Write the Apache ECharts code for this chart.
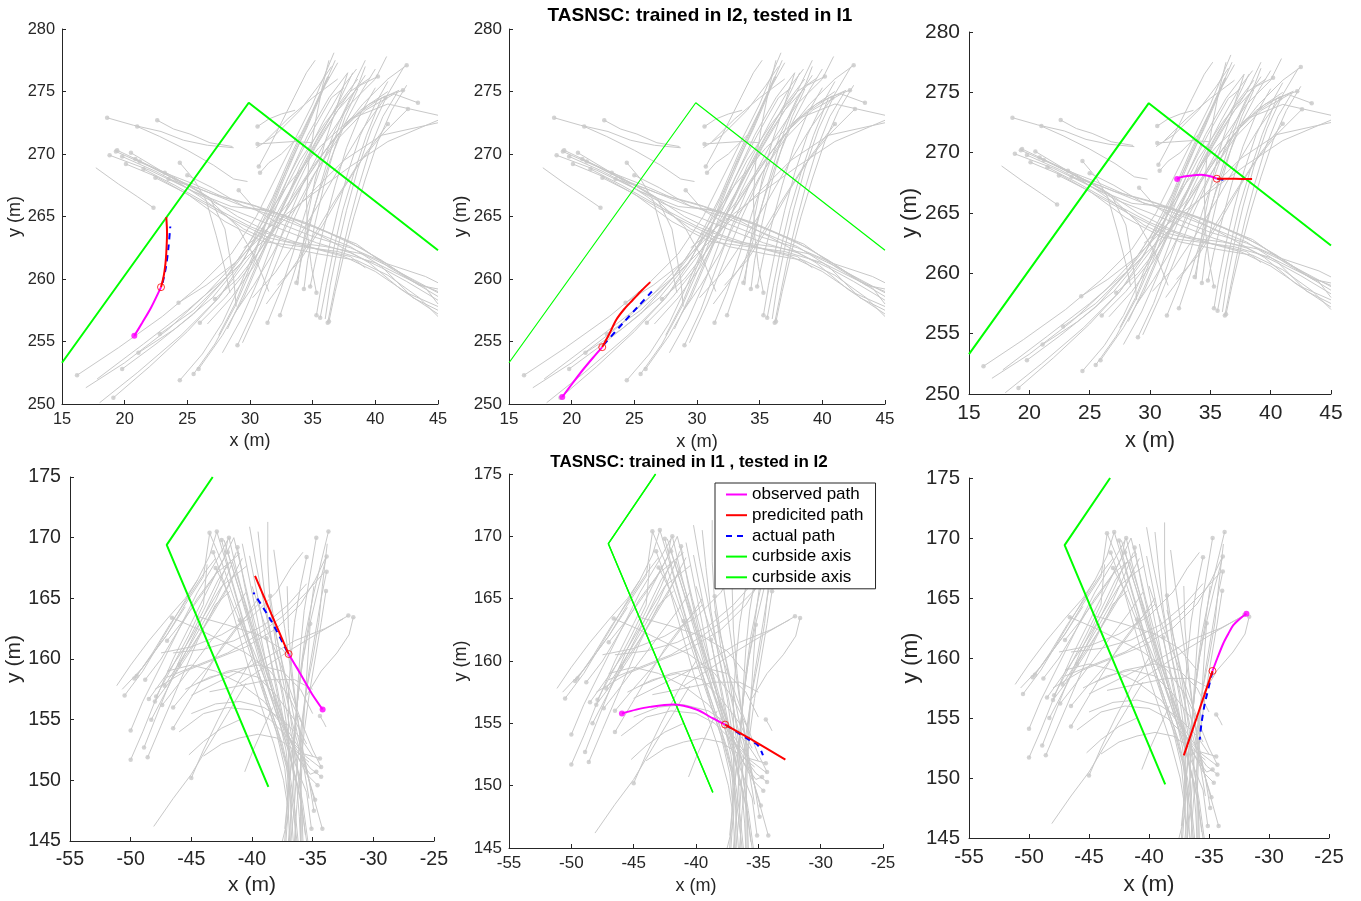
<!DOCTYPE html>
<html>
<head>
<meta charset="utf-8">
<title>TASNSC trajectories</title>
<script src="https://cdn.jsdelivr.net/npm/echarts@6/dist/echarts.min.js"></script>
<style>
html, body { margin: 0; padding: 0; background: #fff; }
#main { width: 1361px; height: 901px; }
</style>
</head>
<body>
<div id="main"></div>
<script>
// axis ranges of the two intersections
var X_I1 = [15, 45], Y_I1 = [250, 280];
var X_I2 = [-55, -25], Y_I2 = [145, 175];

// curbside axis
var CURB_I1 = [[15, 253.3], [29.9, 274.1], [45, 262.3]];
var CURB_I2 = [[-43.24, 175], [-47.03, 169.41], [-38.65, 149.46]];

// I1 background tracks (dot on first point)
var I1_TRACKS = [
  // west approach, heading east / south-east
  [[18.6,272.9],[20.7,272.3],[22.9,271.8],[24.7,271.1],[26.6,270.7],[28.7,270.5]],
  [[22.6,272.7],[23.9,272.0],[25.2,271.6],[26.8,270.9],[28.6,270.6]],
  [[21.0,272.2],[22.8,271.4],[25.0,270.3],[27.1,269.1],[28.7,268.0],[29.8,267.8]],
  [[18.8,269.9],[22.0,268.7],[24.7,267.4],[27.4,266.0],[30.0,265.0],[32.7,263.9],[35.3,262.9],[38.0,262.1],[40.5,260.9],[42.5,259.8],[45,258.3]],
  [[19.4,270.3],[21.5,269.3],[24.0,268.0],[27.0,266.8],[30.0,266.0],[33.0,265.0],[36.0,263.8],[39.0,262.4],[42.0,260.5],[45,258.9]],
  [[20.1,269.2],[22.5,268.2],[25.5,266.5],[28.5,264.8],[31.5,263.3],[34.5,262.6],[37.5,261.8],[40.0,260.6],[42.5,258.9],[45,257.8]],
  [[20.85,269.6],[23.0,268.5],[26.0,267.0],[29.0,265.0],[32.0,263.5],[35.0,262.5],[38.0,261.8],[39.2,260.9]],
  [[22.45,268.1],[25.0,266.8],[28.0,264.6],[31.0,263.0],[34.0,262.6],[37.0,262.2],[40.0,261.3],[43.0,259.8],[45,258.6]],
  [[23.2,268.5],[25.5,267.6],[28.0,266.5],[30.5,265.8],[33.5,264.6],[36.5,263.0],[39.5,261.3],[42.0,259.2],[45,257.2]],
  [[24.4,269.3],[25.5,268.0],[26.5,266.3],[27.3,263.5],[28.0,260.8],[28.4,258.9]],
  [[22.3,265.7],[21.0,266.6],[19.5,267.6],[17.7,268.9]],
  [[25.0,268.3],[27.0,267.3],[29.5,265.8],[32.0,265.3],[35.0,264.2],[38.5,262.8],[41.0,261.0],[43.5,259.5],[45,259.2]],
  [[21.2,269.4],[23.5,268.4],[26.5,266.6],[29.0,264.2],[30.5,261.5],[31.5,259.0]],
  [[19.3,270.2],[22.0,269.0],[24.5,267.8],[26.8,266.5],[28.0,264.0],[28.7,260.0],[28.9,257.8]],
  [[29.1,267.1],[30.5,265.5],[32.0,264.6],[35.0,263.4],[38.0,262.5],[41.0,261.2],[44.0,260.2],[45,259.7]],
  [[19.8,269.8],[22.5,268.6],[25.5,267.0],[28.5,265.8],[31.5,265.5],[34.5,264.5],[37.5,263.2],[40.5,261.5],[43.0,259.8],[45,259.0]],
  [[21.5,268.8],[24.0,267.5],[27.0,265.8],[30.0,264.2],[33.0,263.0],[36.0,262.6],[39.0,262.0],[41.5,260.8],[44.0,259.3],[45,258.0]],
  [[23.5,268.0],[26.0,267.2],[29.0,266.0],[32.0,265.0],[35.0,263.8],[38.0,262.6],[40.5,261.0],[43.0,258.5],[45,257.5]],
  [[20.5,270.1],[23.0,268.6],[26.0,266.6],[29.5,264.0],[32.5,262.6],[35.5,262.0],[38.5,261.5],[41.0,260.3],[43.5,258.5],[45,257.0]],
  // south approach, west lane
  [[16.2,252.3],[19.5,254.5],[23.0,257.0],[26.0,259.5],[28.5,262.0],[30.5,265.0],[32.0,268.0],[33.5,271.0],[35.0,274.0],[36.7,278.1]],
  [[19.1,250.5],[22.0,253.0],[25.0,255.8],[27.5,258.5],[29.5,261.5],[31.2,265.0],[32.8,268.5],[34.5,272.0],[36.0,275.5],[37.0,277.3]],
  [[19.8,252.8],[22.5,254.8],[25.5,257.2],[28.0,260.0],[30.0,263.0],[31.8,266.5],[33.3,270.0],[35.0,273.5],[36.2,276.2]],
  [[21.1,254.1],[24.0,256.0],[27.0,258.5],[29.3,261.3],[31.3,264.5],[33.0,268.0],[34.8,271.5],[36.5,274.5],[37.5,275.3]],
  [[22.8,255.6],[25.5,257.5],[28.0,260.0],[30.3,263.0],[32.2,266.0],[34.0,269.5],[36.0,272.5],[38.0,275.0],[39.6,276.1]],
  // south approach, middle lane
  [[24.4,251.9],[26.2,254.0],[27.8,256.5],[29.2,259.5],[30.5,262.5],[31.8,266.0],[33.2,269.5],[34.8,273.0],[36.3,276.2]],
  [[25.5,252.4],[27.2,254.8],[28.8,257.8],[30.2,261.0],[31.6,264.5],[33.0,268.0],[34.6,271.5],[36.3,274.5],[37.8,276.5]],
  [[25.9,252.8],[27.8,255.5],[29.5,258.5],[31.0,262.0],[32.5,265.5],[34.0,269.0],[35.8,272.5],[37.5,275.5],[38.5,276.8]],
  [[40.2,276.2],[38.8,275.5],[37.0,273.5],[35.2,270.5],[33.5,267.0],[32.0,263.5],[30.7,260.0],[29.3,256.8],[27.8,254.1]],
  [[29.0,254.7],[30.3,257.5],[31.5,260.8],[32.8,264.3],[34.3,267.8],[36.0,271.0],[38.0,274.0],[40.0,276.0],[40.9,277.8]],
  [[42.5,277.1],[41.0,276.0],[39.0,274.0],[37.0,271.5],[35.2,268.5],[33.6,265.0],[32.2,261.5],[30.8,258.0],[29.4,254.9]],
  [[24.3,258.1],[26.5,259.5],[28.8,261.3],[31.0,263.5],[33.0,266.0],[35.0,269.0],[37.2,271.8],[39.5,274.0],[41.9,275.1]],
  [[42.2,275.1],[40.5,274.5],[38.0,272.8],[35.8,270.0],[33.8,267.0],[32.0,264.0],[30.3,261.0],[28.5,258.5],[26.6,256.4]],
  [[27.2,258.4],[29.0,260.0],[30.8,262.3],[32.6,265.0],[34.5,268.0],[36.5,271.0],[38.8,273.5],[41.0,275.0]],
  [[43.4,274.1],[41.5,274.8],[39.2,273.5],[37.0,271.2],[35.0,268.2],[33.3,265.0],[31.8,262.0],[30.3,259.5],[28.8,257.3]],
  [[26.0,256.5],[28.0,258.5],[30.0,261.0],[31.8,264.0],[33.5,267.5],[35.3,271.0],[37.0,274.0],[38.2,276.5]],
  // east lane, from the southern kink
  [[36.2,256.5],[36.6,258.5],[37.2,261.5],[37.9,264.5],[38.7,267.5],[39.6,270.5],[40.6,273.0],[41.8,275.0]],
  [[36.3,256.6],[36.8,259.0],[37.5,262.0],[38.3,265.0],[39.2,268.0],[40.2,271.0],[41.3,273.5],[42.5,275.5]],
  [[35.3,257.1],[35.7,259.5],[36.3,262.5],[37.0,265.5],[37.8,268.5],[38.8,271.5],[40.0,274.0],[41.0,275.8]],
  [[35.6,256.9],[36.1,259.5],[36.7,262.5],[37.4,265.5],[38.3,268.5],[39.3,271.5],[40.5,274.5]],
  [[33.7,259.7],[34.2,262.0],[34.9,264.8],[35.7,267.8],[36.6,270.8],[37.6,273.5],[38.7,275.7],[39.2,277.0]],
  [[34.8,259.4],[35.3,261.8],[36.0,264.5],[36.8,267.5],[37.7,270.5],[38.8,273.2],[40.0,275.3]],
  [[34.3,259.2],[34.6,261.5],[35.2,264.5],[35.9,267.5],[36.7,270.3],[37.6,273.0],[38.6,275.2]],
  [[35.3,258.9],[34.9,261.0],[34.6,263.5],[34.5,266.5],[34.7,269.5],[35.2,272.5],[35.8,275.5],[36.3,277.5]],
  [[31.4,256.5],[32.4,259.0],[33.4,262.0],[34.4,265.3],[35.5,268.5],[36.7,271.7],[38.0,274.5],[39.2,276.3]],
  [[32.4,257.1],[33.3,259.8],[34.3,263.0],[35.3,266.3],[36.4,269.5],[37.6,272.5],[38.9,275.0],[40.0,276.8]],
  // from the north-east, heading south-west
  [[42.6,273.6],[40.5,271.5],[38.5,269.0],[36.6,266.0],[34.8,263.0],[33.0,260.3],[31.3,258.0]],
  [[41.0,272.4],[39.2,270.0],[37.5,267.3],[35.8,264.3],[34.0,261.5],[32.2,259.5]],
  [[40.8,274.5],[39.0,272.0],[37.3,269.2],[35.6,266.2],[33.8,263.2],[32.0,260.5],[30.2,258.5]],
  // short tracks near the apex
  [[30.6,272.2],[31.5,272.8],[32.5,273.2],[33.6,273.5]],
  [[30.6,270.8],[32.0,270.9],[33.5,271.0],[35.0,270.9]],
  [[30.7,269.0],[31.5,270.5],[32.5,272.5],[33.5,274.5],[34.5,276.5],[35.2,277.5]],
  [[30.8,268.5],[31.5,269.3],[32.5,270.0],[34.0,271.5]]
];
// I1 background tracks without a dot
var I1_TRACKS_NODOT = [
  [[18.0,250.1],[21.0,252.5],[24.5,255.5],[27.5,258.5],[30.0,261.8],[32.0,265.0],[34.0,268.5],[36.0,272.0],[38.0,275.0],[39.2,277.5]],
  [[16.9,251.3],[20.0,253.3],[23.5,256.0],[26.5,258.8],[29.0,261.5],[31.0,264.5],[33.0,267.5],[35.5,270.5],[38.0,272.8],[41.0,274.0],[45,273.1]],
  [[17.8,252.0],[21.5,254.8],[25.0,257.5],[28.5,260.5],[31.5,263.5],[34.5,266.5],[37.5,269.5],[40.5,271.5],[45,272.5]],
  [[29.5,262.5],[32.0,264.5],[35.0,266.8],[38.0,269.0],[41.0,271.0],[45,272.7]],
  [[27.5,255.5],[28.8,258.0],[30.0,261.0],[31.2,264.2],[32.5,267.5],[34.0,271.0],[35.5,274.5],[36.8,277.5]],
  [[28.2,256.0],[29.5,258.8],[30.8,261.8],[32.2,265.0],[33.8,268.3],[35.5,271.5],[37.3,274.3],[38.6,276.0]],
  [[33.8,259.5],[34.1,262.0],[34.6,265.0],[35.2,268.0],[36.0,271.0],[37.0,274.0],[37.8,276.5]],
  [[36.0,256.8],[36.4,259.5],[37.0,262.5],[37.7,265.5],[38.6,268.8],[39.7,272.0],[41.0,274.8],[42.3,277.0]],
  [[30.5,270.5],[32.0,271.5],[34.0,273.5],[35.5,275.5],[36.5,277.0]],
  [[31.2,271.0],[33.0,272.8],[35.0,274.5],[37.0,276.0]]
];

// I2 background tracks (dot on first point)
var I2_TRACKS = [
  [[-50.5,157.0],[-49.0,159.0],[-47.5,161.5],[-46.0,164.0],[-44.5,166.5],[-43.5,168.5],[-42.9,170.5]],
  [[-50.0,154.1],[-49.0,156.5],[-47.5,159.5],[-46.0,162.5],[-44.5,165.5],[-43.0,168.0],[-41.9,170.0]],
  [[-50.0,151.7],[-49.0,154.0],[-47.8,157.0],[-46.5,160.0],[-45.0,163.0],[-43.5,166.0],[-42.2,168.5],[-41.5,170.0]],
  [[-49.7,158.4],[-48.5,160.0],[-47.0,162.0],[-45.5,164.5],[-44.0,166.8],[-43.5,170.3]],
  [[-49.5,158.6],[-48.2,160.5],[-46.8,162.8],[-45.3,165.0],[-44.0,167.0],[-43.0,168.3]],
  [[-48.8,158.3],[-47.5,160.0],[-46.0,162.5],[-44.5,165.0],[-43.0,167.0],[-41.0,168.7]],
  [[-48.5,156.7],[-47.0,158.8],[-45.5,161.0],[-44.0,163.5],[-42.5,166.0],[-40.4,167.7]],
  [[-48.3,155.0],[-47.0,157.5],[-45.5,160.5],[-44.0,163.5],[-42.8,166.0],[-42.0,168.0]],
  [[-48.9,152.7],[-48.0,155.0],[-46.8,158.0],[-45.5,161.0],[-44.0,164.0],[-42.8,166.5],[-41.8,168.0]],
  [[-48.6,151.9],[-47.5,154.5],[-46.0,158.0],[-44.5,161.5],[-43.0,164.5],[-41.8,165.6]],
  [[-48.0,156.5],[-46.5,158.5],[-45.0,160.8],[-43.5,163.5],[-42.0,166.0],[-40.8,168.3]],
  [[-47.4,156.2],[-46.0,158.0],[-44.5,160.0],[-43.0,162.0],[-41.5,164.0],[-40.5,165.5]],
  [[-47.2,157.8],[-45.8,160.0],[-44.3,162.5],[-43.0,164.8],[-42.0,167.0],[-41.3,168.8]],
  [[-46.5,156.0],[-45.0,157.8],[-43.5,159.5],[-42.0,161.5],[-40.5,163.5],[-39.5,165.0]],
  [[-46.5,154.3],[-45.2,156.5],[-44.0,158.5],[-42.5,161.0],[-41.0,163.0],[-39.5,164.5]],
  [[-47.9,156.9],[-46.5,159.5],[-45.2,162.0],[-44.0,164.5],[-43.7,167.8]],
  [[-46.0,159.5],[-44.8,161.3],[-43.5,163.3],[-42.3,165.3],[-41.3,167.3]],
  [[-47.0,161.5],[-45.8,163.0],[-44.5,164.8],[-43.3,166.5],[-42.3,168.3],[-42.0,169.8]],
  [[-45.0,150.2],[-44.0,152.5],[-42.8,155.0],[-41.5,157.5],[-40.0,160.0]],
  [[-43.5,170.4],[-42.5,168.0],[-41.5,165.0],[-40.5,162.0],[-39.5,159.0],[-38.5,156.0],[-37.5,153.0],[-36.8,150.0],[-36.4,147.0],[-36.2,145.0]],
  [[-42.9,170.5],[-42.0,167.5],[-41.0,164.0],[-40.0,160.5],[-39.0,157.5],[-38.0,154.5],[-37.2,151.5],[-36.8,148.0],[-36.6,145.0]],
  [[-42.5,169.8],[-41.8,167.0],[-40.8,163.5],[-39.8,160.0],[-38.8,156.5],[-37.8,153.5],[-37.0,150.5],[-36.6,147.5],[-36.3,145.0]],
  [[-42.0,168.8],[-41.0,165.5],[-40.0,162.0],[-39.0,158.5],[-38.0,155.5],[-37.0,152.5],[-36.2,149.5],[-35.8,147.0],[-35.5,145.0]],
  [[-41.9,170.0],[-41.2,167.0],[-40.3,163.5],[-39.3,160.0],[-38.3,156.5],[-37.3,153.5],[-36.5,150.5],[-35.9,148.0],[-35.6,145.5]],
  [[-41.2,169.2],[-40.6,166.0],[-39.8,162.5],[-38.8,159.0],[-37.8,155.5],[-36.9,152.5],[-36.3,149.5],[-36.1,147.0],[-36.0,145.0]],
  [[-43.2,168.8],[-42.2,166.0],[-41.2,162.5],[-40.2,159.0],[-39.2,156.0],[-38.2,153.0],[-37.4,150.0],[-37.0,147.5],[-36.9,145.0]],
  [[-34.6,149.6],[-35.5,150.5],[-36.5,152.5],[-37.5,155.0],[-38.5,158.5],[-39.5,162.0],[-40.3,165.0],[-41.0,168.0],[-41.5,170.0]],
  [[-43.0,167.5],[-42.0,165.5],[-41.0,163.0],[-40.0,160.0],[-39.0,157.0],[-38.0,154.0],[-37.3,151.0],[-37.0,148.0],[-37.2,145.0]],
  [[-34.7,150.7],[-35.2,150.5],[-36.3,152.0],[-37.5,155.0],[-38.7,158.5],[-40.0,162.5],[-41.3,166.5],[-42.3,169.8]],
  [[-34.4,151.8],[-35.8,152.2],[-37.0,154.0],[-38.2,157.0],[-39.3,160.5],[-40.5,164.5],[-41.6,168.0]],
  [[-35.1,146.0],[-35.5,149.0],[-36.5,151.5],[-37.3,154.5],[-38.0,158.0],[-38.8,161.5],[-39.5,165.0],[-40.2,168.5]],
  [[-34.9,147.5],[-35.3,150.0],[-35.8,152.5],[-36.3,155.5],[-36.8,159.0],[-37.3,162.5],[-37.8,166.0],[-38.2,169.0]],
  [[-34.3,151.1],[-35.0,152.5],[-35.8,154.5],[-36.7,157.0],[-37.8,160.0],[-39.0,163.0],[-40.0,166.0]],
  [[-34.3,150.3],[-35.2,151.0],[-36.3,152.5],[-37.5,154.5],[-39.0,156.5],[-41.0,158.0],[-43.0,159.0],[-45.0,159.5],[-47.0,159.0]],
  [[-38.5,165.2],[-38.0,162.0],[-37.3,158.5],[-36.8,155.0],[-36.3,151.5],[-35.9,148.0],[-35.8,145.0]],
  [[-34.2,146.0],[-35.3,150.0],[-35.9,152.5],[-36.3,155.5],[-36.7,159.0],[-37.0,162.5],[-37.1,166.0]],
  [[-34.8,148.4],[-35.6,151.0],[-36.3,154.0],[-37.0,157.5],[-37.8,161.0],[-38.5,164.0]],
  [[-33.7,170.5],[-34.3,168.0],[-35.0,165.0],[-35.6,162.0],[-36.0,159.0],[-36.3,156.0],[-36.5,153.0],[-36.6,150.0],[-36.8,147.0],[-37.0,145.0]],
  [[-33.85,168.45],[-34.5,166.0],[-35.2,163.0],[-35.8,160.0],[-36.2,157.0],[-36.5,154.0],[-36.6,151.0],[-36.5,148.0],[-36.4,145.0]],
  [[-33.85,167.2],[-34.3,165.0],[-34.8,162.0],[-35.3,159.0],[-35.7,156.0],[-36.0,153.0],[-36.0,150.0],[-35.9,147.0],[-35.9,145.0]],
  [[-33.9,165.6],[-34.3,163.0],[-34.8,160.0],[-35.3,157.0],[-35.7,154.0],[-36.0,151.0],[-36.3,148.0],[-36.5,145.0]],
  [[-34.7,170.0],[-35.2,167.0],[-35.7,164.0],[-36.0,161.0],[-36.2,158.0],[-36.4,155.0],[-36.7,152.0],[-37.0,149.0],[-37.3,146.0]],
  [[-35.5,168.4],[-36.0,166.0],[-36.5,163.0],[-36.8,160.0],[-37.0,157.0],[-37.0,154.0],[-37.0,151.0],[-37.1,148.0]],
  [[-35.2,162.9],[-35.4,160.0],[-35.6,157.0],[-35.8,154.0],[-35.9,151.0],[-36.0,148.0],[-36.0,145.0]],
  [[-32.06,163.58],[-34.1,162.4],[-36.9,160.7],[-39.3,159.1],[-41.0,158.0]],
  [[-31.65,163.44],[-32.0,162.0],[-33.0,160.5],[-34.3,159.0],[-35.5,157.0]],
  [[-34.4,155.3],[-34.1,154.8],[-33.9,154.4]],
  [[-46.6,163.4],[-44.5,162.5],[-42.5,161.5],[-40.5,160.5],[-38.5,159.0],[-37.0,157.0],[-35.8,154.5]],
  [[-41.0,163.2],[-40.0,161.0],[-39.0,158.5],[-38.0,156.0],[-37.0,153.5],[-36.0,151.5]],
  [[-38.8,161.7],[-38.3,159.0],[-37.7,156.0],[-37.0,153.0],[-36.5,150.0]]
];
// I2 background tracks without a dot
var I2_TRACKS_NODOT = [
  [[-51.15,157.8],[-50.0,159.5],[-48.5,161.5],[-47.0,163.3],[-45.5,165.0],[-44.5,166.5]],
  [[-50.7,157.5],[-49.0,159.3],[-47.0,162.0],[-45.5,164.3]],
  [[-48.1,146.2],[-46.5,148.5],[-45.0,150.5],[-43.5,153.0],[-42.0,155.5],[-40.5,158.0]],
  [[-40.2,170.9],[-39.7,168.0],[-39.0,164.5],[-38.3,161.0],[-37.5,157.5],[-36.8,154.0],[-36.3,151.0],[-35.8,148.0],[-35.4,145.0]],
  [[-38.7,171.3],[-38.7,168.0],[-38.5,164.5],[-38.0,161.0],[-37.3,157.5],[-36.5,154.0],[-35.8,151.5],[-35.3,148.5]],
  [[-40.8,169.5],[-40.2,166.5],[-39.5,163.0],[-38.8,159.5],[-38.0,156.0],[-37.2,152.5],[-36.8,149.0],[-36.8,145.0]],
  [[-39.5,170.5],[-39.2,167.5],[-38.8,164.0],[-38.2,160.5],[-37.5,157.0],[-37.0,153.5],[-36.9,150.0],[-37.0,147.0],[-37.5,145.0]],
  [[-36.8,145.0],[-36.5,148.0],[-36.3,151.0],[-36.0,154.0],[-35.6,157.0],[-35.0,160.0],[-34.5,163.0],[-34.2,166.0],[-33.8,169.5]],
  [[-37.3,145.0],[-37.1,148.0],[-36.8,151.0],[-36.5,154.0],[-36.2,157.0],[-35.8,160.0],[-35.3,163.0],[-34.9,166.0]],
  [[-45.0,155.5],[-43.0,156.3],[-41.0,156.5],[-39.0,156.0],[-37.5,155.0],[-36.0,153.5],[-35.0,152.0]],
  [[-46.0,154.0],[-44.0,155.5],[-42.0,156.0],[-40.0,155.8],[-38.5,155.0],[-37.0,153.5],[-35.6,152.0],[-34.3,151.0]],
  [[-45.5,157.5],[-43.5,158.5],[-41.5,159.0],[-39.5,158.5],[-38.0,157.0],[-36.5,155.0],[-35.5,153.0]],
  [[-44.0,152.0],[-42.5,153.0],[-41.0,153.5],[-39.5,153.8],[-38.0,153.5],[-36.5,152.5],[-35.3,151.5]],
  [[-48.0,157.5],[-45.5,159.0],[-43.0,160.0],[-40.5,161.0],[-38.0,162.5],[-36.0,164.5],[-34.8,166.5],[-33.9,168.4]],
  [[-47.0,158.5],[-44.5,159.5],[-42.0,160.5],[-39.5,162.0],[-37.5,163.5],[-35.5,165.5],[-34.0,167.2]],
  [[-47.5,160.5],[-45.0,161.0],[-42.5,162.0],[-40.0,163.5],[-38.0,165.5],[-36.8,167.5],[-35.8,168.8]],
  [[-45.0,157.0],[-42.0,158.5],[-39.0,160.0],[-36.5,161.5],[-34.0,162.5],[-32.5,163.3]],
  [[-44.5,158.0],[-42.0,159.0],[-39.5,159.5],[-37.5,159.0],[-36.0,157.5],[-35.0,155.5]],
  [[-46.5,160.5],[-44.0,160.8],[-41.5,161.5],[-39.0,162.8],[-37.0,164.5],[-35.5,166.2]],
  [[-44.5,163.5],[-42.0,162.8],[-39.5,162.0],[-37.5,160.8],[-36.0,159.0]],
  [[-43.5,157.3],[-41.0,157.8],[-38.5,158.3],[-36.5,158.3],[-35.0,157.5]],
  [[-45.2,152.1],[-44.0,153.2],[-42.5,154.3],[-41.0,155.0]],
  [[-40.6,150.7],[-39.9,152.5],[-39.0,154.5],[-38.3,156.0]]
];

// observed / predicted / actual path of each panel
var OBS_1 = [[20.77,255.46],[21.4,256.5],[22.1,257.7],[22.9,259.35]];
var PRED_1 = [[22.9,259.35],[23.11,260.2],[23.25,261.2],[23.32,262.07],[23.38,263.7],[23.32,264.95]];
var ACT_1 = [[23.03,259.7],[23.3,261.0],[23.5,262.6],[23.64,264.2]];

var OBS_2 = [[19.25,250.56],[20.1,251.7],[20.9,252.74],[21.7,253.7],[22.44,254.55]];
var PRED_2 = [[22.44,254.55],[23.0,255.6],[23.56,256.74],[24.2,257.6],[24.89,258.34],[25.6,259.1],[26.27,259.75]];
var ACT_2 = [[22.55,254.74],[24.09,256.47],[25.3,257.8],[26.4,259.0]];

var OBS_3 = [[32.25,267.81],[32.5,267.95],[33.27,268.08],[34.24,268.17],[35.07,268.03],[35.54,267.84]];
var PRED_3 = [[35.54,267.84],[37.0,267.83],[38.46,267.81]];
var ACT_3 = [[35.6,267.84],[36.09,267.75]];

var OBS_4 = [[-34.18,155.84],[-35.08,157.16],[-36.04,158.82],[-36.98,160.41]];
var PRED_4 = [[-36.98,160.41],[-38.4,163.7],[-39.75,166.85]];
var ACT_4 = [[-37.09,160.6],[-38.46,163.22],[-39.89,165.48]];

var OBS_5 = [[-45.94,155.79],[-44.8,156.1],[-43.72,156.32],[-41.84,156.51],[-39.97,156.11],[-38.64,155.39],[-37.67,154.9]];
var PRED_5 = [[-37.67,154.9],[-35.2,153.5],[-32.83,152.09]];
var ACT_5 = [[-37.57,154.85],[-35.7,153.65],[-35.03,153.24],[-34.63,152.44]];

var OBS_6 = [[-31.88,163.69],[-32.4,163.3],[-32.99,162.72],[-33.4,162.0],[-33.82,161.19],[-34.3,160.0],[-34.71,158.92]];
var PRED_6 = [[-34.71,158.92],[-35.9,155.4],[-37.1,151.89]];
var ACT_6 = [[-34.71,158.85],[-35.35,156.19],[-35.63,154.53],[-35.77,153.19]];

var TITLE_TOP = 'TASNSC: trained in I2, tested in I1';
var TITLE_BOTTOM = 'TASNSC: trained in I1 , tested in I2';

var FONT = '"Liberation Sans", Arial, Helvetica, sans-serif';
var AX = '#262626';
var GRAY = '#c8c8c8';

// panel layout
var panels = [
  { grid: [62, 29, 376, 375], big: false, curbW: 2, xr: X_I1, yr: Y_I1, tracks: I1_TRACKS, nodot: I1_TRACKS_NODOT, curb: CURB_I1, obs: OBS_1, pred: PRED_1, act: ACT_1, lab: 16.4, nm: 18, xg: 28, yg: 36 },
  { grid: [509, 29, 376, 375], big: false, curbW: 1.2, xr: X_I1, yr: Y_I1, tracks: I1_TRACKS, nodot: I1_TRACKS_NODOT, curb: CURB_I1, obs: OBS_2, pred: PRED_2, act: ACT_2, lab: 17, nm: 18.3, xg: 29, yg: 35 },
  { grid: [969, 32, 362, 362], big: true, curbW: 2, xr: X_I1, yr: Y_I1, tracks: I1_TRACKS, nodot: I1_TRACKS_NODOT, curb: CURB_I1, obs: OBS_3, pred: PRED_3, act: ACT_3, lab: 21, nm: 22, xg: 36, yg: 44 },
  { grid: [70, 477, 364, 364], big: true, curbW: 2, xr: X_I2, yr: Y_I2, tracks: I2_TRACKS, nodot: I2_TRACKS_NODOT, curb: CURB_I2, obs: OBS_4, pred: PRED_4, act: ACT_4, lab: 19.6, nm: 21, xg: 34, yg: 41 },
  { grid: [509, 474, 374, 374], big: false, curbW: 1.5, xr: X_I2, yr: Y_I2, tracks: I2_TRACKS, nodot: I2_TRACKS_NODOT, curb: CURB_I2, obs: OBS_5, pred: PRED_5, act: ACT_5, lab: 17, nm: 18, xg: 29, yg: 35, legend: true },
  { grid: [969, 478, 360, 360], big: true, curbW: 2, xr: X_I2, yr: Y_I2, tracks: I2_TRACKS, nodot: I2_TRACKS_NODOT, curb: CURB_I2, obs: OBS_6, pred: PRED_6, act: ACT_6, lab: 20.4, nm: 22.5, xg: 35, yg: 44 }
];

var grids = [], xAxes = [], yAxes = [], series = [];

panels.forEach(function (p, i) {
  grids.push({ left: p.grid[0], top: p.grid[1], width: p.grid[2], height: p.grid[3], containLabel: false });
  var axisCommon = function (range, name, gap) {
    return {
      type: 'value', gridIndex: i, min: range[0], max: range[1], interval: 5,
      name: name, nameLocation: 'middle', nameGap: gap,
      nameTextStyle: { fontSize: p.nm, color: AX, fontFamily: FONT },
      axisLine: { show: true, onZero: false, lineStyle: { color: AX, width: 1 } },
      axisTick: { show: true, inside: true, length: 4, lineStyle: { color: AX } },
      axisLabel: { fontSize: p.lab, color: AX, fontFamily: FONT, margin: p.big ? 9 : 7 },
      splitLine: { show: false }
    };
  };
  var xa = axisCommon(p.xr, 'x (m)', p.xg);
  var ya = axisCommon(p.yr, 'y (m)', p.yg);
  ya.nameRotate = 90;
  xAxes.push(xa);
  yAxes.push(ya);

  var all = p.tracks.concat(p.nodot);
  series.push({
    type: 'lines', coordinateSystem: 'cartesian2d', xAxisIndex: i, yAxisIndex: i,
    polyline: true, silent: true, z: 1,
    lineStyle: { color: GRAY, width: 1, opacity: 1 },
    data: all.map(function (t) { return { coords: t }; })
  });
  series.push({
    type: 'scatter', xAxisIndex: i, yAxisIndex: i, silent: true, z: 2,
    symbolSize: 4.5, itemStyle: { color: GRAY },
    data: p.tracks.map(function (t) { return t[0]; })
  });

  var L = p.legend;
  series.push({
    name: L ? 'curbside axis' : 'curb' + i, type: 'line', xAxisIndex: i, yAxisIndex: i, z: 3,
    symbol: 'none', silent: true, data: p.curb,
    lineStyle: { color: '#00ff00', width: L ? 1.2 : p.curbW }, itemStyle: { color: '#00ff00' }
  });
  if (L) {
    series.push({
      name: 'curbside axis ', type: 'line', xAxisIndex: i, yAxisIndex: i, z: 3,
      symbol: 'none', silent: true, data: p.curb,
      lineStyle: { color: '#00ff00', width: p.curbW }, itemStyle: { color: '#00ff00' }
    });
  }
  series.push({
    name: L ? 'observed path' : 'obs' + i, type: 'line', xAxisIndex: i, yAxisIndex: i, z: 5,
    symbol: 'none', smooth: 0.3, silent: true, data: p.obs,
    lineStyle: { color: '#ff00ff', width: 2 }, itemStyle: { color: '#ff00ff' }
  });
  series.push({
    name: L ? 'predicited path' : 'pred' + i, type: 'line', xAxisIndex: i, yAxisIndex: i, z: 6,
    symbol: 'none', smooth: 0.3, silent: true, data: p.pred,
    lineStyle: { color: '#ff0000', width: 2 }, itemStyle: { color: '#ff0000' }
  });
  series.push({
    name: L ? 'actual path' : 'act' + i, type: 'line', xAxisIndex: i, yAxisIndex: i, z: 5,
    symbol: 'none', smooth: 0.3, silent: true, data: p.act,
    lineStyle: { color: '#0000ff', width: 2, type: [6, 5] }, itemStyle: { color: '#0000ff' }
  });
  series.push({
    type: 'scatter', xAxisIndex: i, yAxisIndex: i, z: 7, silent: true,
    symbolSize: 6, itemStyle: { color: '#ff00ff' }, data: [p.obs[0]]
  });
  series.push({
    type: 'scatter', xAxisIndex: i, yAxisIndex: i, z: 7, silent: true,
    symbolSize: 7, itemStyle: { color: 'rgba(0,0,0,0)', borderColor: '#ff0000', borderWidth: 1 },
    data: [p.pred[0]]
  });
});

var chart = echarts.init(document.getElementById('main'), null, { renderer: 'canvas' });
chart.setOption({
  animation: false,
  backgroundColor: '#ffffff',
  textStyle: { fontFamily: FONT },
  title: [
    { text: TITLE_TOP, left: 695, top: 1, textAlign: 'center', textStyle: { fontSize: 19, fontWeight: 'bold', color: '#000', fontFamily: FONT } },
    { text: TITLE_BOTTOM, left: 684, top: 449, textAlign: 'center', textStyle: { fontSize: 17, fontWeight: 'bold', color: '#000', fontFamily: FONT } }
  ],
  legend: {
    data: ['observed path', 'predicited path', 'actual path', 'curbside axis', 'curbside axis '],
    orient: 'vertical', left: 715, top: 483,
    padding: [3, 12, 3, 10], itemGap: 3.7, itemWidth: 21, itemHeight: 14,
    backgroundColor: '#fff', borderColor: AX, borderWidth: 1,
    selectedMode: false,
    itemStyle: { opacity: 0 },
    textStyle: { fontSize: 17, color: '#000', fontFamily: FONT }
  },
  grid: grids,
  xAxis: xAxes,
  yAxis: yAxes,
  series: series
});
</script>
</body>
</html>
